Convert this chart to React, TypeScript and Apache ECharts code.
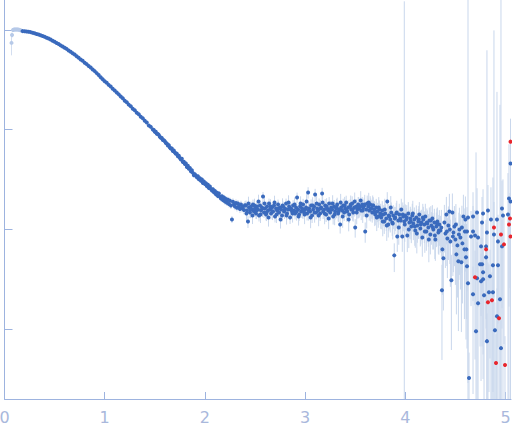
import React, { useEffect, useRef } from "react";
import * as echarts from "echarts";

// Each row: [q, log10(I), relative error sigma/I]
type Row = [number, number, number];

const X_TICKS = [0, 1, 2, 3, 4, 5];
const Y_TICKS = [-3, -2, -1, 0];

const excludedPoints: Row[] = [
  [0.070, -0.13, 0.25], [0.075, -0.05, 0.06], [0.085, 0.0, 0.02], [0.095, 0.005, 0.012],
  [0.105, 0.005, 0.01], [0.115, 0.005, 0.008], [0.125, 0.005, 0.007], [0.135, 0.004, 0.006],
  [0.145, 0.002, 0.006], [0.155, -0.002, 0.005], [0.165, -0.006, 0.005],
];

const guinierPoints: Row[] = [
  [0.18, -0.012, 0.004], [0.20, -0.014, 0.004], [0.22, -0.016, 0.004], [0.24, -0.019, 0.004],
  [0.26, -0.022, 0.004], [0.28, -0.028, 0.004], [0.30, -0.033, 0.004], [0.32, -0.040, 0.004],
  [0.34, -0.046, 0.004], [0.36, -0.054, 0.004], [0.38, -0.061, 0.005], [0.40, -0.068, 0.005],
  [0.42, -0.078, 0.005], [0.44, -0.086, 0.005], [0.46, -0.097, 0.005], [0.48, -0.108, 0.005],
  [0.50, -0.118, 0.005], [0.52, -0.131, 0.005], [0.54, -0.141, 0.005], [0.56, -0.155, 0.005],
  [0.58, -0.166, 0.006], [0.60, -0.179, 0.006], [0.62, -0.190, 0.006], [0.64, -0.206, 0.006],
  [0.66, -0.218, 0.006], [0.68, -0.234, 0.006], [0.70, -0.246, 0.006], [0.72, -0.264, 0.007],
  [0.74, -0.278, 0.007], [0.76, -0.296, 0.007], [0.78, -0.310, 0.007], [0.80, -0.329, 0.007],
  [0.82, -0.343, 0.008], [0.84, -0.362, 0.008], [0.86, -0.377, 0.008], [0.88, -0.397, 0.008],
  [0.90, -0.413, 0.008], [0.92, -0.433, 0.009], [0.94, -0.451, 0.009], [0.96, -0.474, 0.009],
  [0.98, -0.495, 0.009], [1.00, -0.514, 0.010], [1.02, -0.530, 0.010], [1.04, -0.551, 0.010],
  [1.06, -0.568, 0.010], [1.08, -0.590, 0.011], [1.10, -0.607, 0.011], [1.12, -0.628, 0.011],
  [1.14, -0.646, 0.012], [1.16, -0.668, 0.012], [1.18, -0.686, 0.012], [1.20, -0.709, 0.013],
  [1.22, -0.726, 0.013], [1.24, -0.749, 0.013], [1.26, -0.766, 0.014], [1.28, -0.790, 0.014],
  [1.30, -0.806, 0.015], [1.32, -0.830, 0.015], [1.34, -0.846, 0.016], [1.36, -0.871, 0.016],
  [1.38, -0.885, 0.017], [1.40, -0.911, 0.017], [1.42, -0.928, 0.018], [1.44, -0.958, 0.019],
  [1.46, -0.972, 0.019], [1.48, -0.999, 0.020],
];

const kneePoints: Row[] = [
  [1.49, -1.003, 0.02], [1.50, -1.022, 0.02], [1.51, -1.020, 0.02], [1.52, -1.041, 0.02],
  [1.53, -1.044, 0.02], [1.54, -1.052, 0.02], [1.55, -1.072, 0.02], [1.56, -1.080, 0.02],
  [1.57, -1.083, 0.02], [1.58, -1.104, 0.02], [1.59, -1.106, 0.02], [1.60, -1.115, 0.025],
  [1.61, -1.133, 0.025], [1.62, -1.138, 0.025], [1.63, -1.158, 0.025], [1.64, -1.155, 0.025],
  [1.65, -1.178, 0.025], [1.66, -1.190, 0.025], [1.67, -1.189, 0.025], [1.68, -1.214, 0.025],
  [1.69, -1.208, 0.025], [1.70, -1.229, 0.03], [1.71, -1.242, 0.03], [1.72, -1.240, 0.03],
  [1.73, -1.266, 0.03], [1.74, -1.262, 0.03], [1.75, -1.285, 0.03], [1.76, -1.300, 0.03],
  [1.77, -1.292, 0.03], [1.78, -1.325, 0.03], [1.79, -1.322, 0.03], [1.80, -1.344, 0.035],
  [1.81, -1.338, 0.035], [1.82, -1.375, 0.035], [1.83, -1.362, 0.035], [1.84, -1.392, 0.035],
  [1.85, -1.384, 0.035], [1.86, -1.418, 0.035], [1.87, -1.407, 0.035], [1.88, -1.433, 0.04],
  [1.89, -1.456, 0.04], [1.90, -1.446, 0.04], [1.91, -1.462, 0.04], [1.92, -1.478, 0.04],
  [1.93, -1.466, 0.04], [1.94, -1.497, 0.04], [1.95, -1.488, 0.04], [1.96, -1.512, 0.045],
  [1.97, -1.500, 0.045], [1.98, -1.534, 0.045], [1.99, -1.519, 0.045], [2.00, -1.545, 0.05],
  [2.01, -1.538, 0.05], [2.02, -1.566, 0.05], [2.03, -1.552, 0.05], [2.04, -1.585, 0.05],
  [2.05, -1.570, 0.05], [2.06, -1.594, 0.05], [2.07, -1.610, 0.055], [2.08, -1.598, 0.055],
  [2.09, -1.628, 0.055], [2.10, -1.615, 0.055], [2.11, -1.648, 0.06], [2.12, -1.632, 0.06],
  [2.13, -1.664, 0.06], [2.14, -1.640, 0.06], [2.15, -1.672, 0.06], [2.16, -1.690, 0.065],
  [2.17, -1.668, 0.065], [2.18, -1.705, 0.065], [2.19, -1.680, 0.065], [2.20, -1.720, 0.07],
  [2.21, -1.694, 0.07], [2.22, -1.733, 0.07], [2.23, -1.702, 0.07], [2.24, -1.745, 0.075],
  [2.25, -1.712, 0.075], [2.26, -1.760, 0.075], [2.27, -1.900, 0.08], [2.28, -1.722, 0.08],
  [2.29, -1.752, 0.08], [2.30, -1.770, 0.08], [2.31, -1.735, 0.085], [2.32, -1.782, 0.085],
  [2.33, -1.741, 0.085], [2.34, -1.768, 0.09], [2.35, -1.795, 0.09], [2.36, -1.750, 0.09],
  [2.37, -1.788, 0.09], [2.38, -1.772, 0.095], [2.39, -1.805, 0.095], [2.40, -1.758, 0.1],
];

const plateauPoints: Row[] = [
  [2.41, -1.76, 0.12], [2.42, -1.81, 0.12], [2.43, -1.92, 0.14], [2.44, -1.78, 0.12],
  [2.45, -1.83, 0.12], [2.46, -1.77, 0.12], [2.47, -1.80, 0.12], [2.48, -1.75, 0.12],
  [2.49, -1.82, 0.12], [2.50, -1.79, 0.12], [2.51, -1.84, 0.12], [2.52, -1.77, 0.12],
  [2.53, -1.80, 0.12], [2.54, -1.86, 0.13], [2.55, -1.76, 0.12], [2.56, -1.81, 0.12],
  [2.57, -1.78, 0.12], [2.58, -1.67, 0.11], [2.59, -1.83, 0.12], [2.60, -1.79, 0.12],
  [2.61, -1.85, 0.13], [2.62, -1.77, 0.12], [2.63, -1.81, 0.12], [2.64, -1.74, 0.12],
  [2.65, -1.80, 0.12], [2.66, -1.84, 0.13], [2.67, -1.78, 0.12], [2.68, -1.82, 0.12],
  [2.69, -1.76, 0.12], [2.70, -1.87, 0.13], [2.71, -1.79, 0.12], [2.72, -1.81, 0.12],
  [2.73, -1.75, 0.12], [2.74, -1.83, 0.12], [2.75, -1.78, 0.12], [2.76, -1.80, 0.12],
  [2.77, -1.86, 0.13], [2.78, -1.77, 0.12], [2.79, -1.82, 0.12], [2.80, -1.79, 0.12],
  [2.81, -1.74, 0.12], [2.82, -1.84, 0.13], [2.83, -1.80, 0.13], [2.84, -1.77, 0.13],
  [2.85, -1.88, 0.14], [2.86, -1.79, 0.13], [2.87, -1.82, 0.13], [2.88, -1.76, 0.13],
  [2.89, -1.81, 0.13], [2.90, -1.84, 0.13], [2.91, -1.78, 0.13], [2.92, -1.68, 0.12],
  [2.93, -1.80, 0.13], [2.94, -1.85, 0.14], [2.95, -1.77, 0.13], [2.96, -1.82, 0.14],
  [2.97, -1.79, 0.14], [2.98, -1.75, 0.14], [2.99, -1.83, 0.14], [3.00, -1.80, 0.15],
  [3.01, -1.78, 0.15], [3.02, -1.84, 0.15], [3.03, -1.63, 0.13], [3.04, -1.79, 0.15],
  [3.05, -1.82, 0.15], [3.06, -1.76, 0.15], [3.07, -1.86, 0.16], [3.08, -1.80, 0.15],
  [3.09, -1.77, 0.15], [3.10, -1.65, 0.14], [3.11, -1.83, 0.15], [3.12, -1.79, 0.15],
  [3.13, -1.81, 0.15], [3.14, -1.75, 0.15], [3.15, -1.84, 0.16], [3.16, -1.78, 0.15],
  [3.17, -1.64, 0.14], [3.18, -1.82, 0.16], [3.19, -1.80, 0.16], [3.20, -1.76, 0.16],
  [3.21, -1.85, 0.16], [3.22, -1.79, 0.16], [3.23, -1.81, 0.16], [3.24, -1.74, 0.16],
  [3.25, -1.83, 0.16], [3.26, -1.78, 0.16], [3.27, -1.80, 0.16], [3.28, -1.87, 0.17],
  [3.29, -1.77, 0.16], [3.30, -1.82, 0.17], [3.31, -1.79, 0.17], [3.32, -1.75, 0.17],
  [3.33, -1.84, 0.17], [3.34, -1.80, 0.17], [3.35, -1.95, 0.19], [3.36, -1.78, 0.17],
  [3.37, -1.81, 0.17], [3.38, -1.76, 0.17], [3.39, -1.83, 0.18], [3.40, -1.79, 0.18],
  [3.41, -1.73, 0.17], [3.42, -1.82, 0.18], [3.43, -1.78, 0.18], [3.44, -1.85, 0.18],
  [3.45, -1.77, 0.18], [3.46, -1.80, 0.18], [3.47, -1.74, 0.18], [3.48, -1.83, 0.19],
  [3.49, -1.78, 0.19], [3.50, -1.98, 0.21], [3.51, -1.77, 0.19], [3.52, -1.80, 0.19],
  [3.53, -1.75, 0.19], [3.54, -1.79, 0.19], [3.55, -1.77, 0.19], [3.56, -1.81, 0.2],
  [3.57, -1.75, 0.19], [3.58, -1.78, 0.2], [3.59, -1.76, 0.2], [3.60, -2.02, 0.23],
  [3.61, -1.80, 0.2], [3.62, -1.74, 0.2], [3.63, -1.77, 0.2], [3.64, -1.81, 0.21],
  [3.65, -1.75, 0.21], [3.66, -1.79, 0.21], [3.67, -1.83, 0.21], [3.68, -1.76, 0.21],
  [3.69, -1.80, 0.22], [3.70, -1.85, 0.22], [3.71, -1.78, 0.22], [3.72, -1.82, 0.22],
  [3.73, -1.87, 0.23], [3.74, -1.80, 0.23], [3.75, -1.84, 0.23], [3.76, -1.88, 0.24],
  [3.77, -1.81, 0.24], [3.78, -1.85, 0.24], [3.79, -1.92, 0.25], [3.80, -1.84, 0.25],
  [3.81, -1.89, 0.25], [3.82, -1.72, 0.24], [3.83, -1.95, 0.26], [3.84, -1.87, 0.26],
  [3.85, -1.90, 0.26], [3.86, -1.83, 0.26], [3.87, -1.93, 0.27], [3.88, -1.86, 0.27],
  [3.89, -2.26, 0.32], [3.90, -1.88, 0.27], [3.91, -1.84, 0.27], [3.92, -2.07, 0.3],
  [3.93, -1.91, 0.28], [3.94, -1.85, 0.28], [3.95, -1.89, 0.28], [3.96, -1.80, 0.28],
  [3.97, -2.07, 0.3], [3.98, -1.87, 0.29], [3.99, -1.92, 160], [4.00, -1.86, 0.29],
  [4.01, -1.90, 0.3], [4.02, -2.06, 0.32], [4.03, -1.84, 0.3], [4.04, -1.93, 0.31],
  [4.05, -1.89, 0.31], [4.06, -1.97, 0.32], [4.07, -1.86, 0.31], [4.08, -1.94, 0.32],
  [4.09, -1.90, 0.32], [4.10, -2.01, 0.33], [4.11, -1.88, 0.32], [4.12, -1.96, 0.33],
  [4.13, -1.92, 0.33], [4.14, -1.85, 0.33], [4.15, -1.99, 0.34], [4.16, -1.93, 0.34],
  [4.17, -2.08, 0.36], [4.18, -1.90, 0.34], [4.19, -1.95, 0.35], [4.20, -1.87, 0.34],
  [4.21, -2.02, 0.36], [4.22, -1.94, 0.35], [4.23, -1.98, 0.36], [4.24, -1.91, 0.35],
  [4.25, -2.05, 0.37], [4.26, -1.96, 0.36], [4.27, -1.89, 0.36], [4.28, -2.00, 0.37],
  [4.29, -1.93, 0.37], [4.30, -2.10, 0.39], [4.31, -1.97, 0.38], [4.32, -1.92, 0.38],
  [4.33, -2.03, 0.39], [4.34, -1.95, 0.39], [4.35, -2.01, 0.4],
  [4.36, -1.98, 0.5], [4.366, -2.61, 0.8], [4.37, -2.20, 0.65], [4.38, -2.29, 0.7],
  [4.39, -1.93, 0.5], [4.40, -2.04, 0.55], [4.41, -1.85, 0.5], [4.415, -2.02, 0.55],
  [4.42, -2.09, 0.6], [4.43, -1.96, 0.55], [4.44, -1.82, 0.5], [4.445, -2.00, 0.55],
  [4.45, -2.12, 0.65], [4.46, -2.51, 0.8], [4.47, -1.83, 0.55], [4.475, -2.07, 0.6],
  [4.48, -2.03, 0.6], [4.49, -1.97, 0.6], [4.50, -2.10, 0.65], [4.505, -1.95, 0.6],
  [4.51, -2.25, 0.75], [4.52, -2.16, 0.7], [4.53, -2.32, 0.8], [4.535, -2.05, 0.65],
  [4.54, -2.00, 0.65], [4.55, -2.08, 0.7], [4.56, -2.33, 0.8], [4.565, -1.98, 0.65],
  [4.57, -2.14, 0.75], [4.58, -1.87, 0.65], [4.59, -2.20, 0.8], [4.595, -2.02, 0.7],
  [4.60, -1.90, 0.7],
];

const plateauInterleaved: Row[] = [
  [2.415, -1.84, 0.18], [2.435, -1.74, 0.17], [2.455, -1.80, 0.18], [2.475, -1.86, 0.18],
  [2.495, -1.76, 0.17], [2.515, -1.81, 0.18], [2.535, -1.72, 0.17], [2.555, -1.85, 0.18],
  [2.575, -1.79, 0.18], [2.595, -1.74, 0.17], [2.615, -1.83, 0.18], [2.635, -1.88, 0.19],
  [2.655, -1.77, 0.18], [2.675, -1.82, 0.18], [2.695, -1.73, 0.17], [2.715, -1.85, 0.18],
  [2.735, -1.79, 0.18], [2.755, -1.90, 0.19], [2.775, -1.76, 0.18], [2.795, -1.81, 0.18],
  [2.815, -1.86, 0.19], [2.835, -1.73, 0.18], [2.855, -1.80, 0.18], [2.875, -1.84, 0.19],
  [2.895, -1.75, 0.18], [2.915, -1.82, 0.19], [2.935, -1.87, 0.19], [2.955, -1.74, 0.18],
  [2.975, -1.80, 0.19], [2.995, -1.85, 0.2], [3.015, -1.72, 0.2], [3.035, -1.81, 0.21],
  [3.055, -1.88, 0.22], [3.075, -1.76, 0.21], [3.095, -1.83, 0.21], [3.115, -1.74, 0.21],
  [3.135, -1.86, 0.22], [3.155, -1.79, 0.21], [3.175, -1.73, 0.21], [3.195, -1.84, 0.22],
  [3.215, -1.77, 0.21], [3.235, -1.89, 0.22], [3.255, -1.80, 0.22], [3.275, -1.74, 0.21],
  [3.295, -1.85, 0.22], [3.315, -1.78, 0.22], [3.335, -1.82, 0.22], [3.355, -1.73, 0.22],
  [3.375, -1.87, 0.23], [3.395, -1.76, 0.22], [3.415, -1.81, 0.23], [3.435, -1.90, 0.24],
  [3.455, -1.75, 0.23], [3.475, -1.80, 0.23], [3.495, -1.72, 0.23], [3.515, -1.83, 0.24],
  [3.535, -1.77, 0.24], [3.555, -1.71, 0.24], [3.575, -1.81, 0.25], [3.595, -1.75, 0.25],
  [3.615, -1.86, 0.26], [3.635, -1.73, 0.25], [3.655, -1.79, 0.26], [3.675, -1.76, 0.26],
  [3.695, -1.83, 0.27], [3.715, -1.88, 0.27], [3.735, -1.78, 0.27], [3.755, -1.85, 0.28],
  [3.775, -1.92, 0.29], [3.795, -1.80, 0.28], [3.815, -1.96, 0.3], [3.835, -1.86, 0.3],
  [3.855, -1.78, 0.3], [3.875, -1.94, 0.31], [3.895, -1.89, 0.31], [3.915, -1.83, 0.31],
  [3.935, -1.98, 0.33], [3.955, -1.91, 0.32], [3.975, -1.85, 0.32], [3.995, -1.95, 0.33],
  [4.015, -1.88, 0.33], [4.035, -2.00, 0.35], [4.055, -1.92, 0.34], [4.075, -1.84, 0.34],
  [4.095, -1.97, 0.36], [4.115, -2.04, 0.37], [4.135, -1.90, 0.36], [4.155, -1.95, 0.37],
  [4.175, -1.88, 0.37], [4.195, -2.02, 0.39], [4.215, -1.93, 0.38], [4.235, -2.10, 0.41],
  [4.255, -1.91, 0.39], [4.275, -1.98, 0.4], [4.295, -2.06, 0.42], [4.315, -1.94, 0.41],
  [4.335, -2.01, 0.43],
];

const tailPoints: Row[] = [
  [4.606, -2.28, 0.85], [4.61, -2.20, 0.8], [4.616, -2.37, 0.85], [4.616, -2.02, 0.75],
  [4.626, -2.54, 0.9], [4.626, -1.88, 200], [4.636, -3.49, 0.8], [4.656, -2.07, 0.8],
  [4.676, -2.65, 0.9], [4.676, -1.87, 0.75], [4.676, -2.02, 0.8], [4.696, -2.06, 0.8],
  [4.706, -3.02, 61], [4.716, -2.49, 1.3], [4.716, -1.83, 0.75], [4.726, -2.74, 1.5],
  [4.726, -2.08, 0.8], [4.746, -2.35, 0.85], [4.756, -2.52, 0.9], [4.756, -2.17, 0.8],
  [4.766, -2.35, 0.85], [4.766, -1.93, 0.8], [4.776, -2.43, 0.85], [4.776, -2.50, 0.9],
  [4.776, -1.84, 0.75], [4.786, -2.66, 1.4], [4.806, -2.28, 0.85], [4.806, -2.17, 0.85],
  [4.815, -3.12, 0.9], [4.815, -2.03, 66], [4.825, -1.81, 0.8], [4.835, -2.63, 0.9],
  [4.845, -2.47, 0.85], [4.855, -1.90, 1.1], [4.875, -2.36, 6.6], [4.875, -2.63, 0.9],
  [4.885, -2.05, 110], [4.895, -3.01, 0.9], [4.915, -2.87, 0.9], [4.915, -1.90, 18],
  [4.925, -2.36, 0.85], [4.925, -2.12, 0.85], [4.945, -2.70, 88], [4.955, -3.19, 0.9],
  [4.965, -1.79, 0.9], [4.965, -2.17, 0.85], [4.975, -1.86, 1.3], [5.025, -1.85, 1.6],
  [5.035, -1.69, 2.5], [5.05, -1.72, 1.8], [5.05, -1.34, 0.9],
];

const outlierPoints: Row[] = [
  [4.696, -2.48, 0.85], [4.806, -2.20, 0.8], [4.825, -2.73, 1.5], [4.865, -2.71, 0.9],
  [4.885, -1.98, 0.8], [4.905, -3.34, 0.95], [4.935, -2.89, 2.2], [4.955, -2.05, 250],
  [4.985, -2.15, 0.9], [4.995, -3.36, 0.95], [5.035, -1.95, 0.85], [5.045, -1.89, 0.8],
  [5.05, -2.07, 0.9], [5.05, -1.12, 0.7],
];

const Y_MIN = -3.7;
const Y_MAX = 0.3;
const X_MAX = 5.055;

const AXIS_COLOR = "#9db3df";
const LABEL_COLOR = "#a9b8dc";
const BAR_COLOR = "#c9d7ec";
const BAR_COLOR_LIGHT = "#d3def0";
const POINT_COLOR = "#3a6abd";
const OUTLIER_COLOR = "#e8262d";
const EXCLUDED_COLOR = "#b6c9e8";

function barData(rows: Row[]) {
  return rows.map(([q, l, r]) => {
    const lo = r >= 1 ? Y_MIN : Math.max(Y_MIN, l + Math.log10(1 - r));
    const hi = Math.min(Y_MAX, l + Math.log10(1 + r));
    return [q, lo, hi];
  });
}

function errorSeries(rows: Row[], color: string) {
  return {
    type: "custom",
    silent: true,
    clip: true,
    data: barData(rows),
    renderItem: (_params: any, api: any) => {
      const q = api.value(0);
      const p1 = api.coord([q, api.value(2)]);
      const p2 = api.coord([q, api.value(1)]);
      return {
        type: "line",
        shape: { x1: p1[0], y1: p1[1], x2: p2[0], y2: p2[1] },
        style: { stroke: color, lineWidth: 1 },
      };
    },
  };
}

function pointSeries(rows: Row[], color: string) {
  return {
    type: "scatter",
    silent: true,
    symbol: "circle",
    symbolSize: 4,
    itemStyle: { color, opacity: 1 },
    data: rows.map(([q, l]) => [q, l]),
  };
}

export default function App() {
  const ref = useRef<HTMLDivElement>(null);
  useEffect(() => {
    if (!ref.current) return;
    const chart = echarts.init(ref.current, null, { renderer: "svg" });
    const mainRows = [
      ...guinierPoints,
      ...kneePoints,
      ...plateauPoints,
      ...plateauInterleaved,
      ...tailPoints,
    ];
    chart.setOption({
      animation: false,
      grid: {
        left: 4.5,
        right: 1,
        top: 0,
        bottom: 38,
        containLabel: false,
        outerBoundsMode: "none",
      },
      xAxis: {
        type: "value",
        min: 0,
        max: X_MAX,
        axisLine: { show: true, onZero: false, lineStyle: { color: AXIS_COLOR, width: 1 } },
        axisTick: { show: true, inside: true, length: 7, customValues: X_TICKS, lineStyle: { color: AXIS_COLOR } },
        axisLabel: {
          show: true,
          customValues: X_TICKS,
          color: LABEL_COLOR,
          fontSize: 16,
          fontFamily: "DejaVu Sans",
          margin: 10,
          formatter: (v: number) => String(v),
        },
        splitLine: { show: false },
      },
      yAxis: {
        type: "value",
        min: Y_MIN,
        max: Y_MAX,
        axisLine: { show: true, onZero: false, lineStyle: { color: AXIS_COLOR, width: 1 } },
        axisTick: { show: true, inside: true, length: 8, customValues: Y_TICKS, lineStyle: { color: AXIS_COLOR } },
        axisLabel: { show: false },
        splitLine: { show: false },
      },
      series: [
        errorSeries(excludedPoints, BAR_COLOR_LIGHT),
        errorSeries(mainRows, BAR_COLOR),
        errorSeries(outlierPoints, BAR_COLOR),
        pointSeries(excludedPoints, EXCLUDED_COLOR),
        pointSeries(mainRows, POINT_COLOR),
        pointSeries(outlierPoints, OUTLIER_COLOR),
      ],
    });
    return () => chart.dispose();
  }, []);
  return (
    <div
      ref={ref}
      style={{ position: "absolute", left: 0, top: 0, width: 512, height: 437 }}
    />
  );
}
